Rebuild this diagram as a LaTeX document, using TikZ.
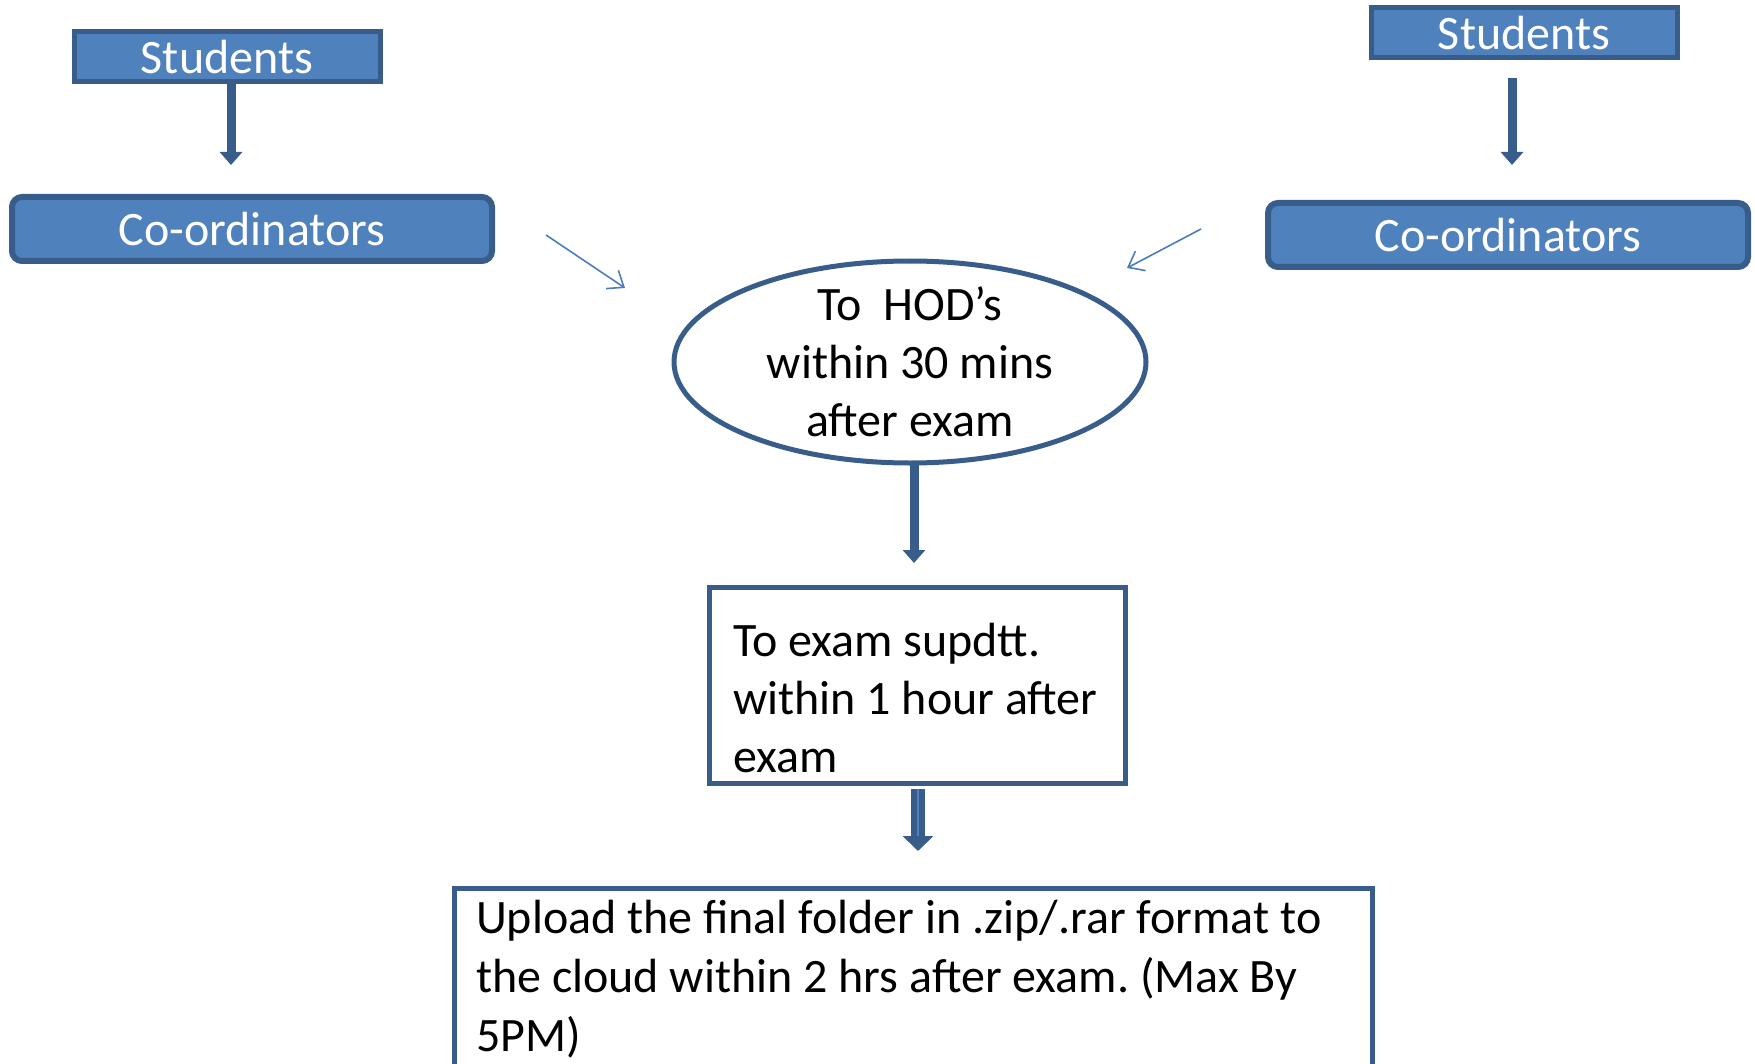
\documentclass[tikz,border=0pt]{standalone}
\usepackage{fontspec}
\setmainfont{Carlito}
\frenchspacing
\usetikzlibrary{shapes.geometric,arrows.meta}
\definecolor{boxfill}{HTML}{4F81BD}
\definecolor{boxline}{HTML}{385D8A}
\definecolor{pointer}{HTML}{4A7EBB}
\tikzset{
    studentbox/.style={draw=boxline, fill=boxfill, line width=2.5pt, text=white,
        font=\fontsize{24}{29}\selectfont, minimum width=153pt, minimum height=25pt, inner sep=0pt},
    coordbox/.style={studentbox, rounded corners=5pt, line width=3pt,
        minimum width=240pt, minimum height=32pt},
    hodshape/.style={ellipse, draw=boxline, line width=2.5pt,
        minimum width=236pt, minimum height=101pt, inner sep=0pt},
    textbox/.style={draw=boxline, line width=2.5pt, align=flush left, inner ysep=0pt,
        font=\fontsize{24}{29}\selectfont},
    blockarrow/.style={boxline, line width=4.5pt, -{Triangle[width=11pt,length=6.5pt]}},
    thinarrow/.style={pointer, line width=0.8pt, -{Straight Barb[width=11pt,length=7pt]}}
}

\begin{document}
\begin{tikzpicture}[x=0.5pt, y=-0.5pt]
    % Page size
    \useasboundingbox (0,0) rectangle (1755,1064);
    \clip (0,0) rectangle (1755,1064);

    % Left column
    \node[studentbox] (stuL) at (227,57) {Students};
    \node[coordbox] (coordL) at (252,229) {Co-ordinators};
    \coordinate (stuLout) at (231,83);
    \coordinate (stuLin) at (231,165);
    \draw[blockarrow] (stuLout) -- (stuLin);

    % Right column
    \node[studentbox] (stuR) at (1524,33) {Students};
    \node[coordbox] (coordR) at (1508,235) {Co-ordinators};
    \coordinate (stuRout) at (1512,78);
    \coordinate (stuRin) at (1512,165);
    \draw[blockarrow] (stuRout) -- (stuRin);

    % HOD ellipse
    \node[hodshape, label={[align=center, font=\fontsize{24}{29}\selectfont]center:To\ \ HOD’s\\within 30 mins\\after exam}]
        (hod) at (910,362) {};

    % Thin pointers into the ellipse
    \coordinate (ptrLa) at (546,235);
    \coordinate (ptrLb) at (625,288);
    \coordinate (ptrRa) at (1201,229);
    \coordinate (ptrRb) at (1127,268);
    \draw[thinarrow] (ptrLa) -- (ptrLb);
    \draw[thinarrow] (ptrRa) -- (ptrRb);

    % Exam superintendent box
    \node[textbox, text width=184pt, inner xsep=12pt, minimum height=98pt, anchor=north]
        (supdtt) at (917,585) {\rule{0pt}{29pt}To exam supdtt.\\within 1 hour after\\exam};
    \coordinate (hodout) at (914,463);
    \coordinate (supin) at (914,563);
    \draw[blockarrow] (hodout) -- (supin);

    % Upload box (runs off the page)
    \node[textbox, text width=437pt, inner xsep=11pt, inner ysep=6pt, anchor=north,
        font=\fontsize{24}{29.5}\selectfont]
        (upload) at (913,886) {Upload the final folder in .zip/.rar format to\\the cloud within 2 hrs after exam. (Max By\\5PM)};
    \coordinate (supout) at (918,789);
    \coordinate (upin) at (918,851);
    \coordinate (upmid) at (918,836);
    \draw[boxline, line width=7pt, -{Triangle[width=15pt,length=7.5pt]}] (supout) -- (upin);
    \draw[boxfill, line width=1.2pt] (supout) -- (upmid);
\end{tikzpicture}
\end{document}
